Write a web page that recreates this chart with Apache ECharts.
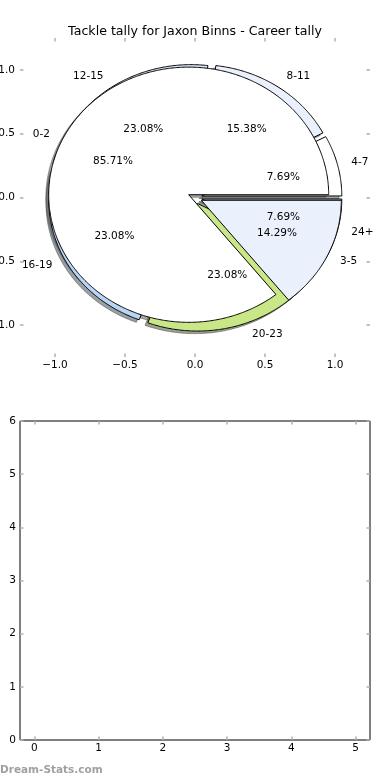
<!DOCTYPE html>
<html><head><meta charset="utf-8">
<script src="https://cdn.jsdelivr.net/npm/echarts@6/dist/echarts.min.js"></script>
<style>html,body{margin:0;padding:0;background:#fff}#c{width:390px;height:780px}</style>
</head><body><div id="c"></div>
<script>
// ---- data ----
const titleText = 'Tackle tally for Jaxon Binns - Career tally';
const careerCats = ['0-2', '3-5'];
const careerVals = [6, 1];
const tallyCats = ['4-7', '8-11', '12-15', '16-19', '20-23', '24+'];
const tallyVals = [1, 2, 3, 3, 3, 1];
const pieTicks = [-1.0, -0.5, 0.0, 0.5, 1.0];
const lowerXTicks = [0, 1, 2, 3, 4, 5];
const lowerYTicks = [0, 1, 2, 3, 4, 5, 6];
const watermarkText = 'Dream-Stats.com';

// ---- styles ----
const careerColors = ['#ffffff', '#eaf1fd'];
const tallyColors = ['#ffffff', '#eaf1fd', '#dbe6f4', '#b9d5f5', '#c9e787', '#e6e6e6'];
const EXPLODE = 0.05, SHADOW = 0.02;
const FONT = 'DejaVu Sans';
const FS = 10.5;

function wedges(vals, colors) {
  const tot = vals.reduce((a, b) => a + b, 0);
  let acc = 0;
  return vals.map((v, i) => {
    const a0 = acc / tot * 360; acc += v; const a1 = acc / tot * 360;
    return { a0, a1, mid: (a0 + a1) / 2 * Math.PI / 180, pct: (v / tot * 100).toFixed(2) + '%', color: colors[i] };
  });
}
function darken(hex) {
  const n = parseInt(hex.slice(1), 16);
  const r = Math.round(((n >> 16) & 255) * 0.3), g = Math.round(((n >> 8) & 255) * 0.3), b = Math.round((n & 255) * 0.3);
  return 'rgb(' + r + ',' + g + ',' + b + ')';
}
const careerW = wedges(careerVals, careerColors);
const tallyW = wedges(tallyVals, tallyColors);

function wedgeRender(ws, shadow) {
  return function (params, api) {
    const w = ws[params.dataIndex];
    const off = shadow ? -SHADOW : 0;
    const cx = EXPLODE * Math.cos(w.mid) + off;
    const cy = EXPLODE * Math.sin(w.mid) + off;
    const pts = [api.coord([cx, cy])];
    const n = Math.max(2, Math.ceil((w.a1 - w.a0) / 0.5));
    for (let k = 0; k <= n; k++) {
      const a = (w.a0 + (w.a1 - w.a0) * k / n) * Math.PI / 180;
      pts.push(api.coord([cx + Math.cos(a), cy + Math.sin(a)]));
    }
    if (shadow) {
      const sc = darken(w.color);
      return { type: 'polygon', shape: { points: pts }, style: { fill: sc, stroke: sc, lineWidth: 1, opacity: 0.5 } };
    }
    return { type: 'polygon', shape: { points: pts }, style: { fill: w.color, stroke: '#000', lineWidth: 1 } };
  };
}
function labelRender(ws, cats) {
  return function (params, api) {
    const i = params.dataIndex, w = ws[i];
    const c = Math.cos(w.mid), s = Math.sin(w.mid);
    const lp = api.coord([(1.1 + EXPLODE) * c, (1.1 + EXPLODE) * s]);
    const pp = api.coord([(0.6 + EXPLODE) * c, (0.6 + EXPLODE) * s]);
    return { type: 'group', children: [
      { type: 'text', x: lp[0], y: lp[1], style: { text: cats[i], fill: '#000', fontSize: FS, fontFamily: FONT, align: c > 0 ? 'left' : 'right', verticalAlign: 'middle' } },
      { type: 'text', x: pp[0], y: pp[1], style: { text: w.pct, fill: '#000', fontSize: FS, fontFamily: FONT, align: 'center', verticalAlign: 'middle' } }
    ] };
  };
}
const fmt = v => (v < 0 ? '\u2212' : '') + Math.abs(v).toFixed(1);
const tickStyle = { show: true, inside: true, length: 3.5, lineStyle: { color: '#b0b0b0', width: 1.5 } };
const lblStyle = { color: '#000', fontSize: FS, fontFamily: FONT };

function pieAxis(pos, showLabel) {
  return {
    type: 'value', gridIndex: 0, position: pos, min: -1.25, max: 1.25,
    axisLine: { show: false, onZero: false }, splitLine: { show: false },
    axisTick: Object.assign({ customValues: pieTicks }, tickStyle),
    axisLabel: Object.assign({ show: showLabel, customValues: pieTicks, formatter: fmt, margin: pos === 'left' ? 5 : 3 }, lblStyle)
  };
}
function lowAxis(pos, ticks, min, max, showLabel) {
  return {
    type: 'value', gridIndex: 1, position: pos, min: min, max: max,
    axisLine: { show: false, onZero: false }, splitLine: { show: false },
    axisTick: Object.assign({ customValues: ticks }, tickStyle),
    axisLabel: Object.assign({ show: showLabel, customValues: ticks, margin: pos === 'left' ? 4 : 3 }, lblStyle)
  };
}

const chart = echarts.init(document.getElementById('c'), null, { renderer: 'canvas' });
chart.setOption({
  animation: false,
  backgroundColor: '#fff',
  title: { text: titleText, left: 'center', top: 20, textStyle: { fontSize: 12.6, fontWeight: 'normal', color: '#000', fontFamily: FONT } },
  grid: [
    { left: 20, width: 350, top: 38, height: 319, show: false, containLabel: false, outerBoundsMode: 'none' },
    { left: 20, width: 350, top: 421, height: 319, show: true, borderColor: '#000', borderWidth: 1, backgroundColor: 'transparent', containLabel: false, outerBoundsMode: 'none' }
  ],
  xAxis: [
    pieAxis('bottom', true), pieAxis('top', false),
    lowAxis('bottom', lowerXTicks, -0.225, 5.225, true), lowAxis('top', lowerXTicks, -0.225, 5.225, false)
  ],
  yAxis: [
    pieAxis('left', true), pieAxis('right', false),
    lowAxis('left', lowerYTicks, 0, 6, true), lowAxis('right', lowerYTicks, 0, 6, false)
  ],
  graphic: [{ type: 'text', left: 0, top: 765, style: { text: watermarkText, fill: '#a0a0a0', fontSize: 10.5, fontWeight: 'bold', fontFamily: FONT } }],
  series: [
    { type: 'custom', name: 'tally shadow', xAxisIndex: 0, yAxisIndex: 0, z: 1, clip: false, renderItem: wedgeRender(tallyW, true), data: tallyVals.map((v, i) => [i, v]) },
    { type: 'custom', name: 'career shadow', xAxisIndex: 0, yAxisIndex: 0, z: 1, clip: false, renderItem: wedgeRender(careerW, true), data: careerVals.map((v, i) => [i, v]) },
    { type: 'custom', name: 'tally', xAxisIndex: 0, yAxisIndex: 0, z: 2, clip: false, renderItem: wedgeRender(tallyW, false), data: tallyVals.map((v, i) => [i, v]) },
    { type: 'custom', name: 'career', xAxisIndex: 0, yAxisIndex: 0, z: 3, clip: false, renderItem: wedgeRender(careerW, false), data: careerVals.map((v, i) => [i, v]) },
    { type: 'custom', name: 'tally labels', xAxisIndex: 0, yAxisIndex: 0, z: 5, clip: false, renderItem: labelRender(tallyW, tallyCats), data: tallyVals.map((v, i) => [i, v]) },
    { type: 'custom', name: 'career labels', xAxisIndex: 0, yAxisIndex: 0, z: 5, clip: false, renderItem: labelRender(careerW, careerCats), data: careerVals.map((v, i) => [i, v]) },
    { type: 'line', name: 'empty', xAxisIndex: 2, yAxisIndex: 2, data: [] }
  ]
});
</script></body></html>
